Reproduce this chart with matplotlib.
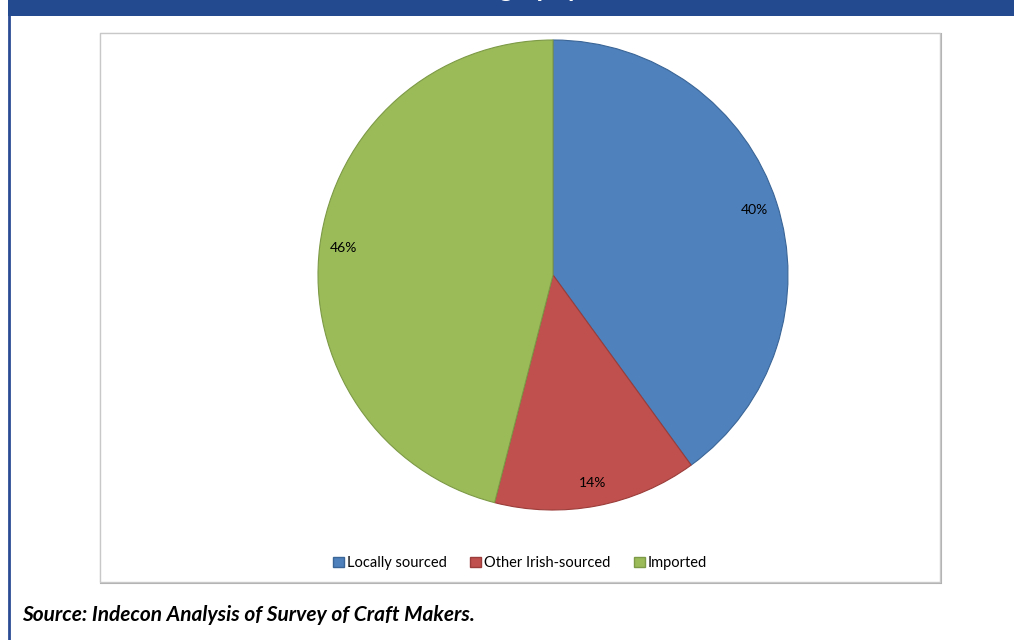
import numpy as np
import matplotlib
matplotlib.use('Agg')
import matplotlib.pyplot as plt
import matplotlib.patches as mpatches
from matplotlib.lines import Line2D

categories = ['Locally sourced', 'Other Irish-sourced', 'Imported']
shares = [40, 14, 46]
colors = ['#4F81BD', '#C0504D', '#9BBB59']
edge_colors = ['#3A6596', '#9B3D3A', '#7D9A46']

W, H = 1014, 640
fig = plt.figure(figsize=(W / 100, H / 100), dpi=100)
fig.patch.set_facecolor('white')


def fx(px):
  return px / W


def fy(py):
  return 1 - py / H


# header band and left border (title sits mostly above the crop)
fig.patches.append(mpatches.Rectangle((fx(8), fy(16)), 1 - fx(8), 16 / H,
  transform=fig.transFigure, facecolor='#234A8E', edgecolor='none', zorder=-2))
fig.lines.append(Line2D([fx(9), fx(9)], [0, 1], transform=fig.transFigure,
  color='#2B4C95', linewidth=2, zorder=-2))
fig.text(fx(580), fy(-3), 'Sources of Materials Used \u2013 Geography', color='white',
  fontsize=19, fontweight='bold', family='Lato', ha='right', va='baseline')

# chart frame
fig.patches.append(mpatches.Rectangle((fx(101), fy(583)), 840 / W, 549 / H,
  transform=fig.transFigure, facecolor='none', edgecolor='#B0B0B0', linewidth=1.5,
  zorder=-2))
fig.patches.append(mpatches.Rectangle((fx(100), fy(582)), 840 / W, 549 / H,
  transform=fig.transFigure, facecolor='white', edgecolor='#C8C8C8', linewidth=1,
  zorder=-1))

# pie
r = 235
ax = fig.add_axes([fx(553 - r), fy(275 + r), 2 * r / W, 2 * r / H])
ax.patch.set_visible(False)
wedges, texts, autotexts = ax.pie(shares, colors=colors, startangle=90,
  counterclock=False, autopct='%1.0f%%', pctdistance=0.9,
  wedgeprops=dict(linewidth=0.8),
  textprops=dict(fontsize=10, family='Lato', color='black'))
for w, ec in zip(wedges, edge_colors):
  w.set_edgecolor(ec)
ax.set_xlim(-1, 1)
ax.set_ylim(-1, 1)
ax.set_axis_off()

handles = [mpatches.Patch(facecolor=c, edgecolor=ec, label=l)
  for c, ec, l in zip(colors, edge_colors, categories)]
fig.legend(handles=handles, loc='center', bbox_to_anchor=(fx(520), fy(563)),
  ncol=3, frameon=False, prop=dict(family='Lato', size=10.5),
  handlelength=0.75, handleheight=0.75, handletextpad=0.2, columnspacing=1.6)

fig.text(fx(22), fy(615), 'Source: Indecon Analysis of Survey of Craft Makers.',
  fontsize=15, fontweight='bold', style='italic', family='Lato',
  ha='left', va='center')

fig.savefig('out.png', dpi=100)
